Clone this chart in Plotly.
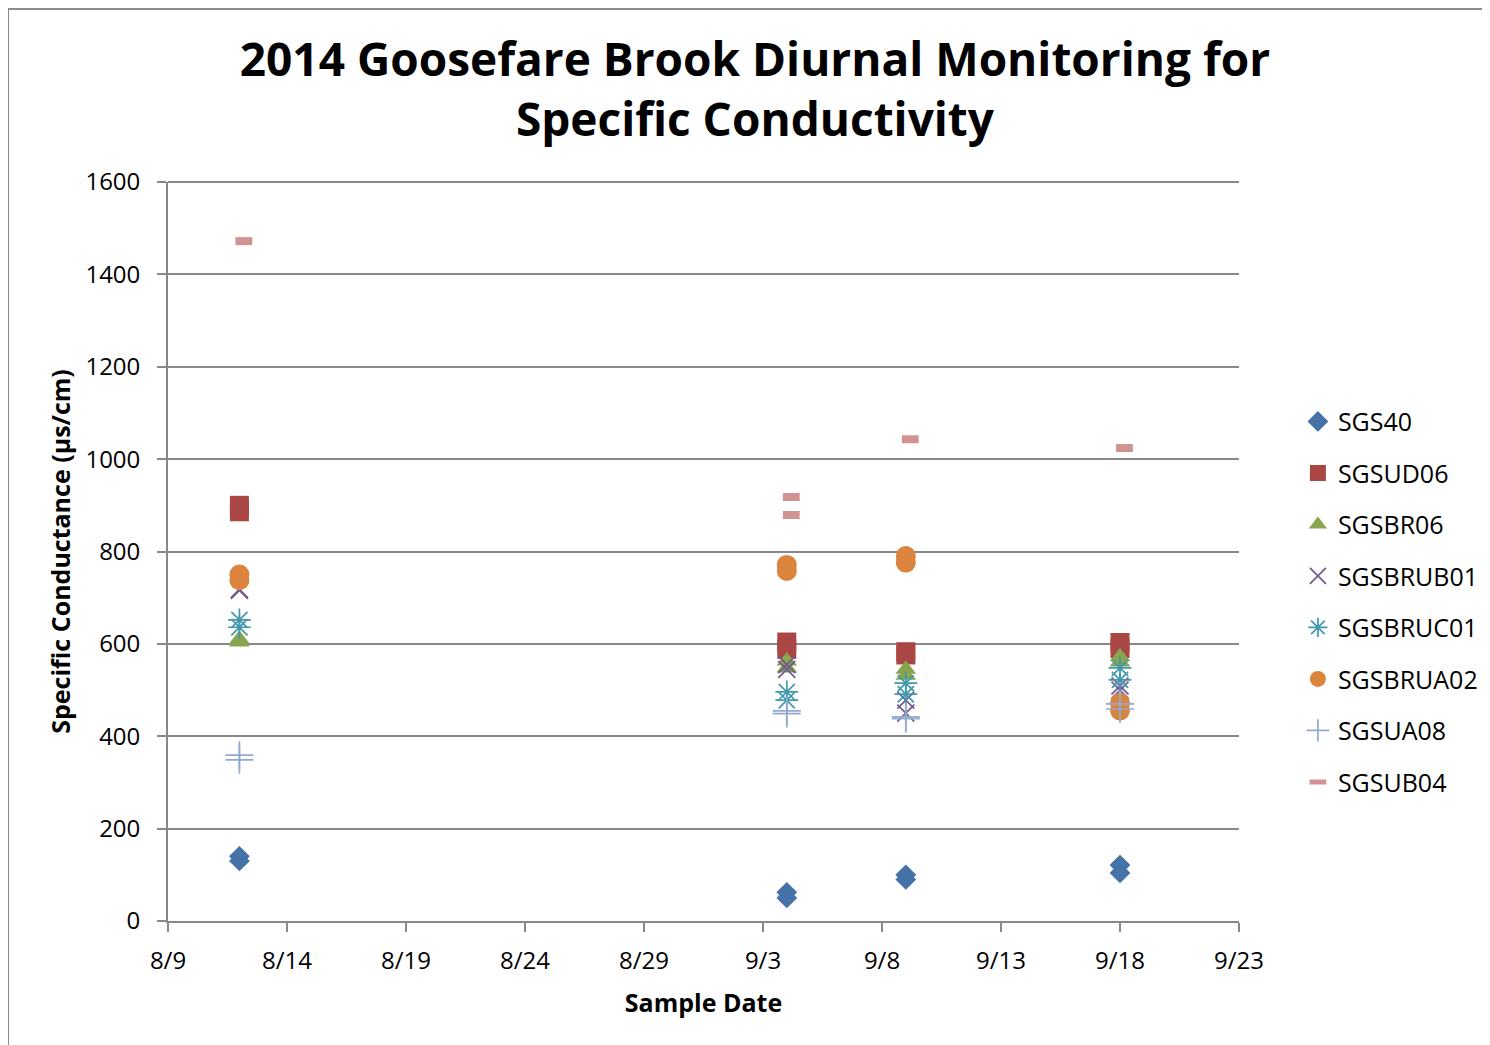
import plotly.graph_objects as go

# ---- data ----
series_names = ["SGS40", "SGSUD06", "SGSBR06", "SGSBRUB01", "SGSBRUC01", "SGSBRUA02", "SGSUA08", "SGSUB04"]

dates_main = ["2014-08-12", "2014-08-12", "2014-09-04", "2014-09-04", "2014-09-09", "2014-09-09", "2014-09-18", "2014-09-18"]
dates_ub04 = ["2014-08-12 04:30", "2014-09-04 04:30", "2014-09-04 04:30", "2014-09-09 04:30", "2014-09-18 04:30"]

sgs40     = [140, 130, 62, 50, 100, 90, 121, 104]
sgsud06   = [900, 886, 604, 588, 583, 576, 603, 590]
sgsbr06   = [610, 604, 563, 548, 545, 532, 572, 561]
sgsbrub01 = [718, 716, 555, 545, 478, 450, 509, 500]
sgsbruc01 = [652, 636, 496, 478, 515, 491, 548, 522]
sgsbrua02 = [750, 738, 771, 758, 790, 776, 472, 456]
sgsua08   = [359, 349, 455, 449, 442, 438, 470, 459]
sgsub04   = [1472, 918, 879, 1043, 1024]

values = [sgs40, sgsud06, sgsbr06, sgsbrub01, sgsbruc01, sgsbrua02, sgsua08, sgsub04]

colors = ["#4572A7", "#AA4643", "#89A54E", "#71588F", "#4198AF", "#DB843D", "#93A9CF", "#D19392"]
symbols = ["diamond", "square", "triangle-up", "x-thin-open", "asterisk-open", "circle", "cross-thin-open", "line-ew-open"]
sizes = [16, 19, 18, 17, 19, 20, 20, 12]

fig = go.Figure()
for i, name in enumerate(series_names):
    xs = dates_ub04 if name == "SGSUB04" else dates_main
    marker = dict(symbol=symbols[i], size=sizes[i], color=colors[i])
    if symbols[i].endswith("-open"):
        lw = 1.7
        if name == "SGSUB04":
            lw = 8
        marker["line"] = dict(color=colors[i], width=lw)
    else:
        marker["line"] = dict(width=0)
    fig.add_trace(go.Scatter(
        x=xs, y=values[i], mode="markers", name=name, legendgroup=name,
        marker=marker,
    ))

font_family = "Open Sans, Noto Sans, DejaVu Sans, sans-serif"
grid_col = "#888888"

fig.update_layout(
    width=1490, height=1045,
    paper_bgcolor="white", plot_bgcolor="white",
    margin=dict(l=160, r=259, t=174, b=132),
    font=dict(family=font_family, size=24, color="black"),
    title=dict(
        text="<b>2014 Goosefare Brook Diurnal Monitoring for<br>Specific Conductivity</b>",
        x=0.5013, xanchor="center", y=0.935, yanchor="top",
        font=dict(size=46, family=font_family, color="black"),
    ),
    showlegend=True,
    legend=dict(
        x=1.055, xanchor="left", y=0.7068, yanchor="top",
        font=dict(size=25, family=font_family, color="black"),
        tracegroupgap=16, itemwidth=30,
        bgcolor="rgba(0,0,0,0)",
    ),
    xaxis=dict(
        type="date",
        range=["2014-08-09", "2014-09-23"],
        tick0="2014-08-09", dtick=5 * 86400000,
        tickformat="%-m/%-d",
        showgrid=False, zeroline=False,
        showline=True, linecolor=grid_col, linewidth=1.8,
        ticks="outside", ticklen=9, tickcolor=grid_col, tickwidth=1.8,
        tickfont=dict(size=24), ticklabelstandoff=8,
        title=dict(text="<b>Sample Date</b>", font=dict(size=25), standoff=20),
    ),
    yaxis=dict(
        range=[0, 1600], dtick=200,
        showgrid=True, gridcolor=grid_col, gridwidth=1.8,
        zeroline=False,
        showline=True, linecolor=grid_col, linewidth=1.8,
        ticks="outside", ticklen=9, tickcolor=grid_col, tickwidth=1.8,
        tickfont=dict(size=24), ticklabelstandoff=12,
        title=dict(text="<b>Specific Conductance (µs/cm)</b>", font=dict(size=25), standoff=8),
    ),
)

# top gridline (1600) at plot-area edge
fig.add_shape(type="line", xref="paper", yref="paper", x0=0, x1=1, y0=1, y1=1,
              line=dict(color=grid_col, width=1.8), layer="below")

# chart-area border (left and top edges visible in the reference)
fig.add_shape(type="line", xref="paper", yref="paper", x0=-0.1494, x1=-0.1494, y0=1.2341, y1=-0.2,
              line=dict(color="#8c8c8c", width=2))
fig.add_shape(type="line", xref="paper", yref="paper", x0=-0.1494, x1=1.25, y0=1.2341, y1=1.2341,
              line=dict(color="#8c8c8c", width=2))

fig.write_html("out.html")
